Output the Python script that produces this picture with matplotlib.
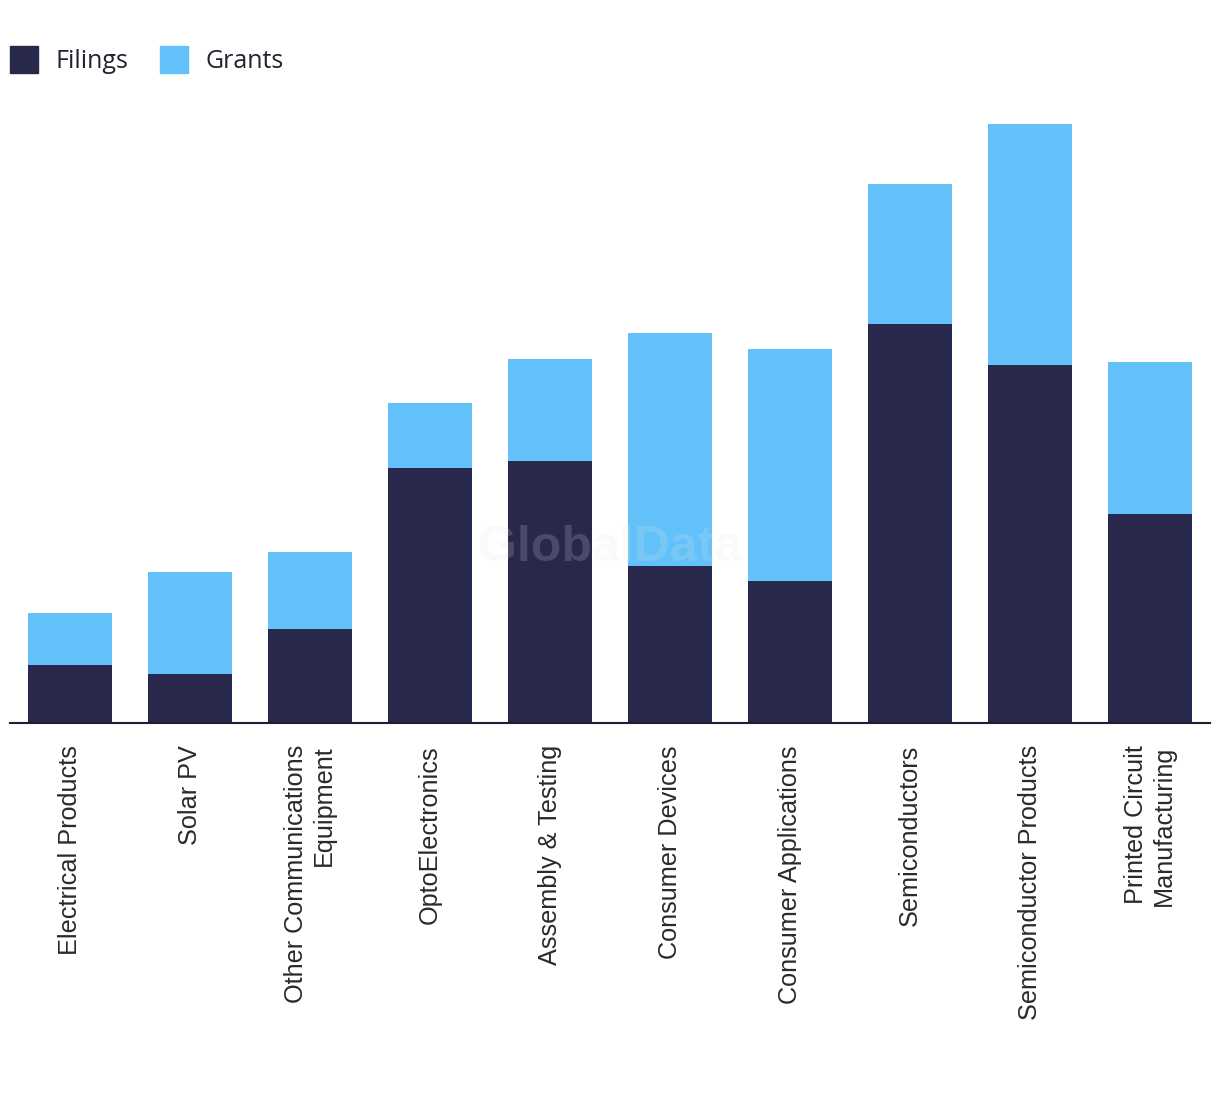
import numpy as np
import matplotlib.pyplot as plt
from matplotlib.patches import Patch

categories = ["Electrical Products", "Solar PV", "Other Communications\nEquipment",
              "OptoElectronics", "Assembly & Testing", "Consumer Devices",
              "Consumer Applications", "Semiconductors", "Semiconductor Products",
              "Printed Circuit\nManufacturing"]
filings = [58, 49, 94, 255, 262, 157, 142, 399, 358, 209]
grants = [52, 102, 77, 65, 102, 233, 232, 140, 241, 152]

navy = "#27284b"
blue = "#62c1f9"

fig = plt.figure(figsize=(12.2, 10.94), dpi=100)
ax = fig.add_axes([10 / 1220, 371 / 1094, 1200 / 1220, 700 / 1094])

x = np.arange(len(categories))
ax.bar(x, filings, width=0.7, color=navy, zorder=2)
ax.bar(x, grants, width=0.7, bottom=filings, color=blue, zorder=2)

ax.set_xlim(-0.5, len(categories) - 0.5)
ax.set_ylim(0, 700)
ax.set_yticks([])
for s in ["top", "right", "left"]:
    ax.spines[s].set_visible(False)
ax.spines["bottom"].set_color("#1e1e2e")
ax.spines["bottom"].set_linewidth(1.5)
ax.set_xticks(x)
ax.set_xticklabels(categories, rotation=90, ha="center", va="top",
                   multialignment="right", fontsize=18.2,
                   family=["Liberation Sans", "DejaVu Sans"], color="#2a2a2a")
ax.tick_params(axis="x", length=0, pad=16)

# watermark
ax.text(0.5, 0.25, "GlobalData", transform=ax.transAxes, ha="center", va="center",
        fontsize=36, fontweight="bold", color="#e4e4ec", alpha=0.18,
        family=["Liberation Sans", "DejaVu Sans"], zorder=3)

handles = [Patch(color=navy, label="Filings"), Patch(color=blue, label="Grants")]
fig.legend(handles=handles, loc="upper left", bbox_to_anchor=(0.0, 0.967), ncol=2,
           frameon=False, handlelength=1.12, handleheight=1.3,
           handletextpad=0.68, columnspacing=1.3, borderaxespad=0.0, borderpad=0.4,
           prop={"family": ["Open Sans", "DejaVu Sans"], "size": 18})
for t in fig.legends[0].get_texts():
    t.set_color("#222230")

fig.savefig("out.png", dpi=100, facecolor="white")
